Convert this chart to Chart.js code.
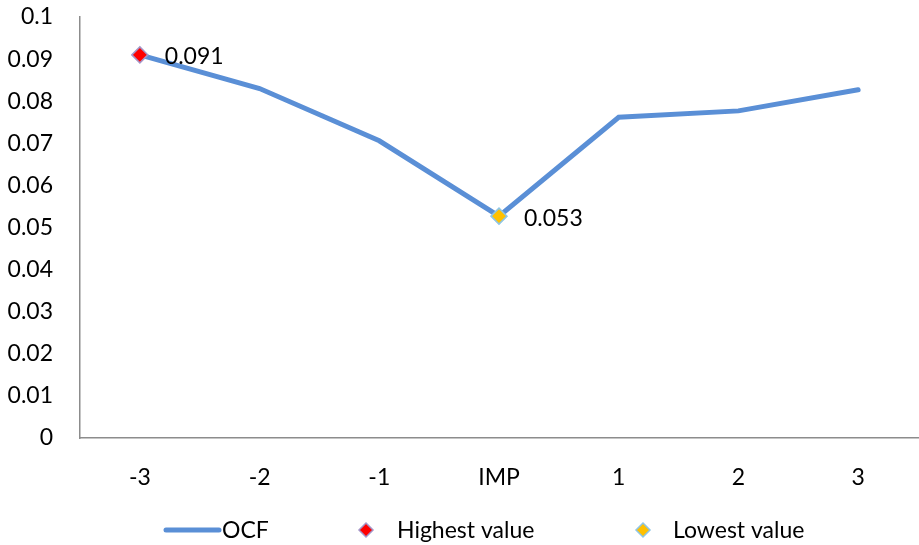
<!DOCTYPE html>
<html>
<head>
<meta charset="utf-8">
<script src="https://cdn.jsdelivr.net/npm/chart.js@4"></script>
<style>
html,body{margin:0;padding:0;background:#fff;}
#wrap{width:919px;height:545px;}
</style>
</head>
<body>
<div id="wrap"><canvas id="c" width="919" height="545"></canvas></div>
<script>
const categories = ['-3', '-2', '-1', 'IMP', '1', '2', '3'];
const ocfValues = [0.091, 0.083, 0.0706, 0.0527, 0.0762, 0.0777, 0.0827];
const highestValues = [0.091, null, null, null, null, null, null];
const lowestValues = [null, null, null, 0.0527, null, null, null];
const yTicks = [0, 0.01, 0.02, 0.03, 0.04, 0.05, 0.06, 0.07, 0.08, 0.09, 0.1];
const seriesNames = ['OCF', 'Highest value', 'Lowest value'];

const FONT = 'Lato';
const LINE_COLOR = '#5a8fd6';

const pointLabels = {
  id: 'pointLabels',
  afterDatasetsDraw(chart) {
    const ctx = chart.ctx;
    ctx.save();
    ctx.font = '23px ' + FONT;
    ctx.fillStyle = '#000';
    ctx.textAlign = 'left';
    ctx.textBaseline = 'middle';
    [1, 2].forEach(di => {
      const meta = chart.getDatasetMeta(di);
      const ds = chart.data.datasets[di];
      meta.data.forEach((pt, i) => {
        const v = ds.data[i];
        if (v === null || v === undefined) return;
        ctx.fillText(v.toFixed(3), pt.x + 25, pt.y + 2);
      });
    });
    ctx.restore();
  }
};

const customLegend = {
  id: 'customLegend',
  afterDraw(chart) {
    const ctx = chart.ctx;
    const y = 530;
    ctx.save();
    ctx.font = '23px ' + FONT;
    ctx.fillStyle = '#000';
    ctx.textBaseline = 'middle';
    ctx.textAlign = 'left';
    const d0 = chart.data.datasets[0];
    ctx.strokeStyle = d0.borderColor;
    ctx.lineWidth = d0.borderWidth;
    ctx.lineCap = 'round';
    ctx.beginPath();
    ctx.moveTo(166, y);
    ctx.lineTo(219, y);
    ctx.stroke();
    ctx.fillText(d0.label, 222, y + 1);
    const items = [[1, 366, 397], [2, 643, 673]];
    items.forEach(([di, cx, tx]) => {
      const ds = chart.data.datasets[di];
      const r = 7;
      ctx.beginPath();
      ctx.moveTo(cx, y - r);
      ctx.lineTo(cx + r, y);
      ctx.lineTo(cx, y + r);
      ctx.lineTo(cx - r, y);
      ctx.closePath();
      ctx.fillStyle = ds.pointBackgroundColor;
      ctx.fill();
      ctx.strokeStyle = ds.pointBorderColor;
      ctx.lineWidth = 1.5;
      ctx.stroke();
      ctx.fillStyle = '#000';
      ctx.fillText(ds.label, tx, y + 1);
    });
    ctx.restore();
  }
};

function zeroPad(scale) {
  scale.paddingLeft = 0; scale.paddingRight = 0;
  scale.paddingTop = 0; scale.paddingBottom = 0;
}

new Chart(document.getElementById('c'), {
  type: 'line',
  data: {
    labels: categories,
    datasets: [
      {
        label: seriesNames[0],
        data: ocfValues,
        borderColor: LINE_COLOR,
        backgroundColor: LINE_COLOR,
        borderWidth: 5,
        borderCapStyle: 'round',
        pointRadius: 0,
        tension: 0,
        order: 2
      },
      {
        label: seriesNames[1],
        data: highestValues,
        showLine: false,
        pointStyle: 'rectRot',
        pointRadius: 8,
        pointBorderWidth: 1.5,
        pointBackgroundColor: '#ff0000',
        pointBorderColor: '#a596c8',
        order: 1
      },
      {
        label: seriesNames[2],
        data: lowestValues,
        showLine: false,
        pointStyle: 'rectRot',
        pointRadius: 8,
        pointBorderWidth: 1.5,
        pointBackgroundColor: '#ffc000',
        pointBorderColor: '#8ec6e6',
        order: 1
      }
    ]
  },
  options: {
    responsive: false,
    animation: false,
    devicePixelRatio: 1,
    layout: { autoPadding: false, padding: { top: 17, right: 1, left: 0, bottom: 0 } },
    plugins: {
      legend: { display: false },
      tooltip: { enabled: false }
    },
    scales: {
      x: {
        offset: true,
        grid: { display: false, drawTicks: false, offset: true },
        border: { display: true, color: '#8c8c8c', width: 1.5 },
        ticks: { color: '#000', font: { family: FONT, size: 23 }, padding: 26 },
        afterFit(scale) { zeroPad(scale); scale.height = 107; }
      },
      y: {
        min: 0,
        max: 0.1,
        afterBuildTicks(scale) { scale.ticks = yTicks.map(v => ({ value: v })); },
        grid: { display: false, drawTicks: false },
        border: { display: true, color: '#8c8c8c', width: 1.5 },
        ticks: {
          color: '#000',
          font: { family: FONT, size: 23 },
          padding: 27,
          callback: v => String(Number(v.toFixed(2)))
        },
        afterFit(scale) { zeroPad(scale); scale.width = 80; }
      }
    }
  },
  plugins: [pointLabels, customLegend]
});
</script>
</body>
</html>
